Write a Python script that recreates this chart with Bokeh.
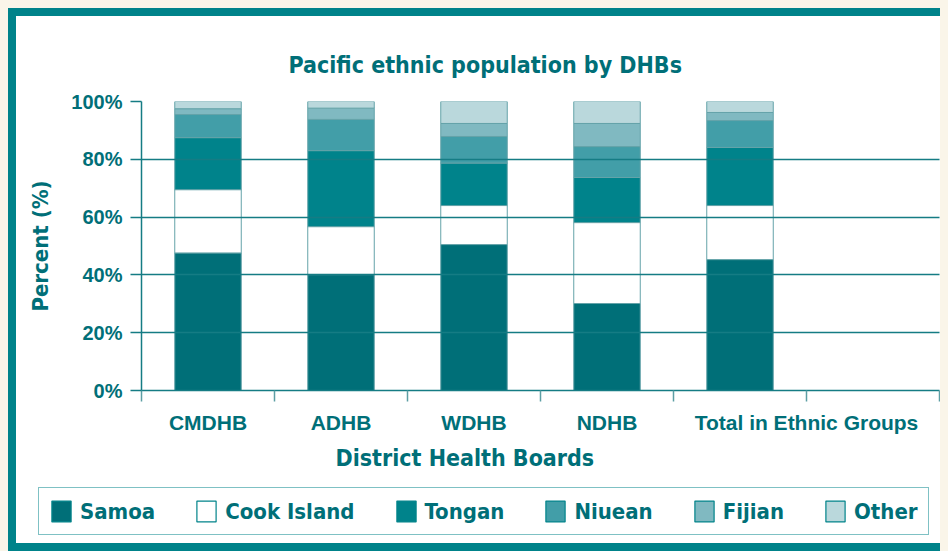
from bokeh.plotting import figure
from bokeh.layouts import column
from bokeh.models import (ColumnDataSource, FixedTicker, PrintfTickFormatter,
                          Legend, LegendItem, Title)
from bokeh.embed import file_html
from bokeh.resources import INLINE

# ---------------- data ----------------
categories = ["CMDHB", "ADHB", "WDHB", "NDHB", "Total in Ethnic Groups"]
samoa  = [47.6, 40.1, 50.5, 30.1, 45.3]
cook   = [21.9, 16.6, 13.5, 28.0, 18.7]
tongan = [18.0, 26.3, 14.7, 15.6, 20.1]
niuean = [8.0, 10.8, 9.2, 10.7, 9.3]
fijian = [2.0, 3.9, 4.5, 8.0, 2.8]
other  = [2.5, 2.3, 7.6, 7.6, 3.8]
series_names = ["Samoa", "Cook Island", "Tongan", "Niuean", "Fijian", "Other"]
y_ticks = [0, 20, 40, 60, 80, 100]

# ---------------- style ----------------
TEXT = "#006f78"
FRAME = "#00838a"
GRID = "#157c84"
EDGE = "#64a3a9"
colors = ["#006f78", "#ffffff", "#00838b", "#429ea8", "#80b9c1", "#bad8dc"]
NARROW = "'DejaVu Sans Condensed', 'Roboto Condensed', 'Liberation Sans Narrow', Roboto, sans-serif"
SANS = "Liberation Sans"

n_slots = len(categories) + 1
xs = [i + 0.5 for i in range(len(categories))]
src = ColumnDataSource(dict(x=xs, cat=categories, **{
    "Samoa": samoa, "Cook Island": cook, "Tongan": tongan,
    "Niuean": niuean, "Fijian": fijian, "Other": other}))

p = figure(width=932, height=466, x_range=(0, n_slots), y_range=(0, 100),
           output_backend="svg", toolbar_location=None,
           min_border_left=125, min_border_right=9, min_border_top=85,
           min_border_bottom=92)
p.background_fill_color = "white"
p.border_fill_color = "white"
p.outline_line_color = None

rs = p.vbar_stack(series_names, x="x", width=0.5, source=src,
                  fill_color=colors, line_color=EDGE, line_width=1)

# title
p.title.text = "Pacific ethnic population by DHBs"
p.title.align = "left"
p.title.offset = 147
p.title.standoff = 47
p.title.text_font = NARROW
p.title.text_font_size = "23px"
p.title.text_font_style = "bold"
p.title.text_color = TEXT

# y axis
yax = p.yaxis[0]
yax.ticker = FixedTicker(ticks=y_ticks, minor_ticks=[])
yax.formatter = PrintfTickFormatter(format="%d%%")
yax.axis_label = "Percent (%)"
yax.axis_label_text_font = NARROW
yax.axis_label_text_font_size = "22px"
yax.axis_label_text_font_style = "bold"
yax.axis_label_text_color = TEXT
yax.axis_label_standoff = 15
yax.major_label_text_font = SANS
yax.major_label_text_font_size = "20px"
yax.major_label_text_font_style = "bold"
yax.major_label_text_color = TEXT
yax.major_label_standoff = 8
yax.major_tick_out = 11
yax.major_tick_in = 0
yax.major_tick_line_color = GRID
yax.major_tick_line_width = 1.5
yax.axis_line_color = GRID
yax.axis_line_width = 1.5

# x axis: labels at category centres, minor ticks at slot boundaries
label_pos = [i + 0.5 for i in range(len(categories) - 1)] + [len(categories)]
xax = p.xaxis[0]
xax.ticker = FixedTicker(ticks=label_pos, minor_ticks=list(range(n_slots + 1)))
xax.major_label_overrides = {float(pos): name for pos, name in zip(label_pos, categories)}
xax.major_label_text_font = SANS
xax.major_label_text_font_size = "21px"
xax.major_label_text_font_style = "bold"
xax.major_label_text_color = TEXT
xax.major_label_standoff = 9
xax.major_tick_line_color = None
xax.minor_tick_out = 11
xax.minor_tick_in = 0
xax.minor_tick_line_color = "#5c9ea4"
xax.minor_tick_line_width = 1.5
xax.axis_line_color = GRID
xax.axis_line_width = 1.5

p.xgrid.visible = False
p.ygrid.grid_line_color = GRID
p.ygrid.grid_line_width = 1.5
p.ygrid.level = "overlay"

xlabel = Title(text="District Health Boards", align="left", offset=194,
               text_font=NARROW, text_font_size="23px", text_font_style="bold",
               text_color=TEXT, standoff=12)
p.add_layout(xlabel, "below")

# ---------------- legend strip ----------------
leg = figure(width=932, height=61, x_range=(0, 1), y_range=(0, 1),
             output_backend="svg", toolbar_location=None,
             x_axis_type=None, y_axis_type=None, min_border=0)
leg.outline_line_color = None
leg.grid.visible = False
leg.background_fill_color = "white"
leg.border_fill_color = "white"
swatches = leg.vbar_stack(series_names, x="x", width=0.5, source=src,
                          fill_color=colors, line_color=FRAME, line_width=1.2)
for r in swatches:
    r.visible = False

legend = Legend(items=[LegendItem(label=n, renderers=[r]) for n, r in zip(series_names, swatches)],
                orientation="horizontal", location=(22, 8),
                label_text_font=NARROW, label_text_font_size="22px",
                label_text_font_style="bold", label_text_color=TEXT,
                glyph_width=24, glyph_height=26, spacing=39, padding=10,
                label_standoff=7, margin=0,
                border_line_color=FRAME, border_line_width=1.5,
                background_fill_color="white", background_fill_alpha=1,
                inactive_fill_alpha=0)
try:
    # let the legend strip keep its own full-width frame
    leg.frame_align = False
except Exception:
    # fallback: fit the legend inside the aligned frame
    legend.location = (0, 8)
    legend.label_text_font_size = "20px"
    legend.spacing = 25
leg.add_layout(legend, "center")

layout = column(p, leg, spacing=0)
layout.styles = {"border-left": f"8px solid {FRAME}", "border-top": f"8px solid {FRAME}",
                 "border-bottom": f"8px solid {FRAME}", "box-sizing": "content-box",
                 "background": "white"}

tmpl = """{% block preamble %}<style>html, body { background: #faf5e9; } body { margin: 8px !important; }</style>{% endblock %}"""
open("out.html", "w").write(file_html(layout, INLINE, template=tmpl))
